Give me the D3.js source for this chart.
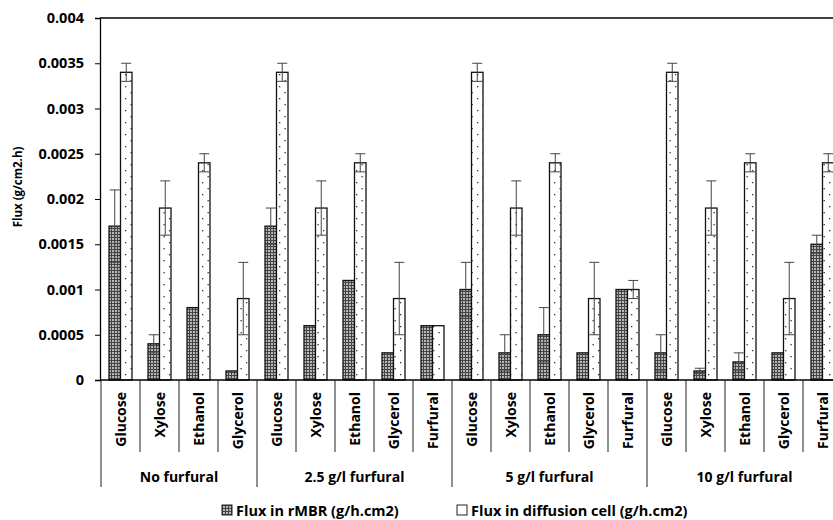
<!DOCTYPE html>
<html>
<head>
<meta charset="utf-8">
<script src="https://cdn.jsdelivr.net/npm/d3@7"></script>
<style>
  body { margin: 0; background: #fff; }
  svg { display: block; font-family: "Open Sans", sans-serif; font-weight: 700; }
</style>
</head>
<body>
<svg id="chart"></svg>
<script>
//chart data
var groups = ["No furfural", "2.5 g/l furfural", "5 g/l furfural", "10 g/l furfural"];
var categories = ["Glucose", "Xylose", "Ethanol", "Glycerol",
                  "Glucose", "Xylose", "Ethanol", "Glycerol", "Furfural",
                  "Glucose", "Xylose", "Ethanol", "Glycerol", "Furfural",
                  "Glucose", "Xylose", "Ethanol", "Glycerol", "Furfural"];
var categoryGroup = [0, 0, 0, 0, 1, 1, 1, 1, 1, 2, 2, 2, 2, 2, 3, 3, 3, 3, 3];
var rmbrValues = [0.0017, 0.0004, 0.0008, 0.0001,
                  0.0017, 0.0006, 0.0011, 0.0003, 0.0006,
                  0.0010, 0.0003, 0.0005, 0.0003, 0.0010,
                  0.0003, 0.0001, 0.0002, 0.0003, 0.0015];
var rmbrErrors = [0.0004, 0.0001, 0, 0,
                  0.0002, 0, 0, 0, 0,
                  0.0003, 0.0002, 0.0003, 0, 0,
                  0.0002, 0.00003, 0.0001, 0, 0.0001];
var diffValues = [0.0034, 0.0019, 0.0024, 0.0009,
                  0.0034, 0.0019, 0.0024, 0.0009, 0.0006,
                  0.0034, 0.0019, 0.0024, 0.0009, 0.0010,
                  0.0034, 0.0019, 0.0024, 0.0009, 0.0024];
var diffErrors = [0.0001, 0.0003, 0.0001, 0.0004,
                  0.0001, 0.0003, 0.0001, 0.0004, 0,
                  0.0001, 0.0003, 0.0001, 0.0004, 0.0001,
                  0.0001, 0.0003, 0.0001, 0.0004, 0.0001];
var yTicks = [0, 0.0005, 0.001, 0.0015, 0.002, 0.0025, 0.003, 0.0035, 0.004];
var seriesNames = ["Flux in rMBR (g/h.cm2)", "Flux in diffusion cell (g/h.cm2)"];

var width = 833, height = 520;
var plotLeft = 100, plotTop = 18, plotBottom = 380;
var catWidth = 39;

var svg = d3.select("#chart").attr("width", width).attr("height", height);

//fill patterns for the two series
var defs = svg.append("defs");
var grid = defs.append("pattern")
    .attr("id", "gridFill")
    .attr("patternUnits", "userSpaceOnUse")
    .attr("width", 3).attr("height", 3);
grid.append("rect").attr("width", 3).attr("height", 3).attr("fill", "#444");
grid.append("rect").attr("x", 1).attr("y", 1).attr("width", 2).attr("height", 2).attr("fill", "#b8b8b8");

var dots = defs.append("pattern")
    .attr("id", "dotFill")
    .attr("patternUnits", "userSpaceOnUse")
    .attr("width", 11).attr("height", 12);
dots.append("rect").attr("width", 11).attr("height", 12).attr("fill", "#fff");
dots.append("rect").attr("x", 4).attr("y", 2).attr("width", 1.3).attr("height", 1.3).attr("fill", "#333");
dots.append("rect").attr("x", 9.5).attr("y", 8).attr("width", 1.3).attr("height", 1.3).attr("fill", "#333");

//scales
var xScale = d3.scaleBand()
    .domain(d3.range(categories.length))
    .range([plotLeft + 1, plotLeft + 1 + catWidth * categories.length]);
var xInner = d3.scaleBand()
    .domain(["rmbr", "diff"])
    .range([8, catWidth - 8]);
var yScale = d3.scaleLinear().domain([0, 0.004]).range([plotBottom, plotTop]);

//top border of the plot
svg.append("line")
    .attr("x1", plotLeft).attr("x2", width)
    .attr("y1", yScale(0.004)).attr("y2", yScale(0.004))
    .attr("stroke", "#000").attr("stroke-width", 1.3);

//y axis
var yAxis = d3.axisLeft(yScale)
    .tickValues(yTicks)
    .tickSize(5)
    .tickPadding(11)
    .tickFormat(function (d) { return d === 0 ? "0" : String(+d.toFixed(4)); });
var yG = svg.append("g")
    .attr("transform", "translate(" + plotLeft + ",0)")
    .call(yAxis);
yG.select(".domain").attr("stroke", "#000").attr("stroke-width", 1.3);
yG.selectAll("line").attr("stroke", "#000");
yG.selectAll("text").attr("font-size", 14.5).attr("fill", "#000").attr("font-family", "Open Sans").attr("font-weight", 700);

svg.append("text")
    .attr("transform", "translate(22," + 187 + ") rotate(-90)")
    .attr("text-anchor", "middle")
    .attr("font-size", 11.5)
    .text("Flux (g/cm2.h)");

//bars
var bars = svg.append("g").attr("class", "bars");
categories.forEach(function (c, i) {
    var x0 = xScale(i);
    var pairs = [
        {key: "rmbr", v: rmbrValues[i], e: rmbrErrors[i], fill: "url(#gridFill)"},
        {key: "diff", v: diffValues[i], e: diffErrors[i], fill: "url(#dotFill)"}
    ];
    pairs.forEach(function (p) {
        bars.append("rect")
            .attr("x", x0 + xInner(p.key))
            .attr("y", yScale(p.v))
            .attr("width", xInner.bandwidth())
            .attr("height", yScale(0) - yScale(p.v))
            .attr("fill", p.fill)
            .attr("stroke", "#111")
            .attr("stroke-width", 1.3);
    });
    pairs.forEach(function (p) {
        if (p.e <= 0) return;
        var cx = x0 + xInner(p.key) + xInner.bandwidth() / 2;
        var eg = bars.append("g").attr("stroke", "#444").attr("stroke-width", 1);
        eg.append("line").attr("x1", cx).attr("x2", cx)
            .attr("y1", yScale(p.v - p.e)).attr("y2", yScale(p.v + p.e));
        [p.v - p.e, p.v + p.e].forEach(function (ev) {
            eg.append("line").attr("x1", cx - 5).attr("x2", cx + 5)
                .attr("y1", yScale(ev)).attr("y2", yScale(ev));
        });
    });
});

//x axis line with category and group dividers
svg.append("line")
    .attr("x1", plotLeft).attr("x2", width)
    .attr("y1", plotBottom).attr("y2", plotBottom)
    .attr("stroke", "#000").attr("stroke-width", 1.3);

var xAxisG = svg.append("g");
categories.forEach(function (c, i) {
    var isGroupStart = i === 0 || categoryGroup[i] !== categoryGroup[i - 1];
    xAxisG.append("line")
        .attr("x1", xScale(i)).attr("x2", xScale(i))
        .attr("y1", plotBottom).attr("y2", isGroupStart ? 487 : 452)
        .attr("stroke", "#222").attr("stroke-width", 1);
    xAxisG.append("text")
        .attr("transform", "translate(" + (xScale(i) + catWidth / 2 + 5) + ",392) rotate(-90)")
        .attr("text-anchor", "end")
        .attr("font-size", 14)
        .text(c);
});
//end divider past the last category
xAxisG.append("line")
    .attr("x1", xScale(categories.length - 1) + catWidth).attr("x2", xScale(categories.length - 1) + catWidth)
    .attr("y1", plotBottom).attr("y2", 487)
    .attr("stroke", "#222");

groups.forEach(function (g, gi) {
    var idx = d3.range(categories.length).filter(function (i) { return categoryGroup[i] === gi; });
    var gx0 = xScale(idx[0]);
    var gx1 = xScale(idx[idx.length - 1]) + catWidth;
    xAxisG.append("text")
        .attr("x", (gx0 + gx1) / 2)
        .attr("y", 482)
        .attr("text-anchor", "middle")
        .attr("font-size", 14)
        .text(g);
});

//legend
var legendX = [222, 457];
var legendFills = ["url(#gridFill)", "url(#dotFill)"];
seriesNames.forEach(function (s, i) {
    var lg = svg.append("g").attr("transform", "translate(" + legendX[i] + ",505)");
    lg.append("rect")
        .attr("width", 10).attr("height", 10)
        .attr("fill", i === 0 ? legendFills[0] : "#fff")
        .attr("stroke", "#222").attr("stroke-width", 1);
    lg.append("text")
        .attr("x", 14).attr("y", 10.5)
        .attr("font-size", 14.5)
        .text(s);
});
</script>
</body>
</html>
